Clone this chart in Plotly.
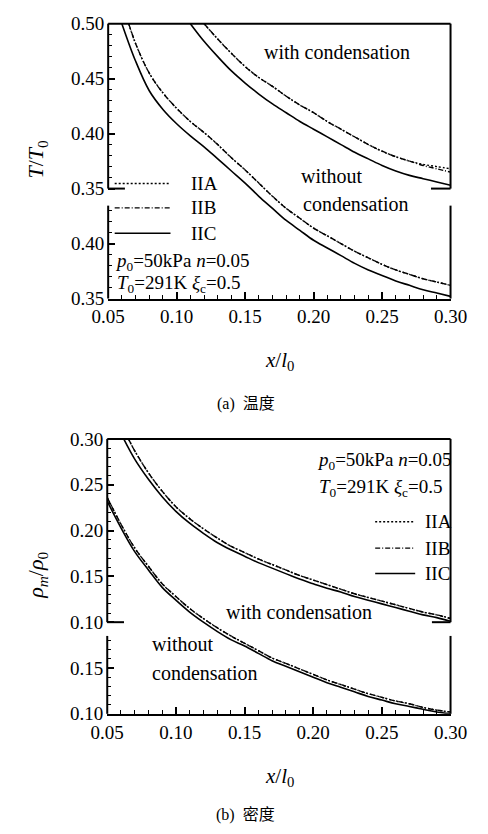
import plotly.graph_objects as go

W, H = 488, 834
FONT = "Liberation Serif"
CJK_FONT = "Liberation Serif, Noto Sans CJK SC"

# ---------------- Panel (a): temperature T/T0 ----------------
# broken axis: lower section labels are shifted by this amount on the axis
SHIFT_A = 0.10
a_ticks_upper = [0.35, 0.40, 0.45, 0.50]
a_ticks_lower = [0.35, 0.40]

# with condensation (upper section)
xa_wc_C = [0.110, 0.120, 0.130, 0.140, 0.150, 0.160, 0.170, 0.180, 0.190, 0.200,
           0.210, 0.220, 0.230, 0.240, 0.250, 0.260, 0.270, 0.280, 0.290, 0.300]
Ta_wc_C = [0.500, 0.484, 0.470, 0.457, 0.446, 0.436, 0.427, 0.419, 0.411, 0.404,
           0.397, 0.390, 0.383, 0.377, 0.371, 0.366, 0.362, 0.359, 0.356, 0.353]
xa_wc_AB = [0.120, 0.130, 0.140, 0.150, 0.160, 0.170, 0.180, 0.190, 0.200, 0.210,
            0.220, 0.230, 0.240, 0.250, 0.260, 0.270, 0.280, 0.290, 0.300]
Ta_wc_A = [0.500, 0.486, 0.473, 0.461, 0.451, 0.443, 0.434, 0.426, 0.419, 0.411,
           0.404, 0.397, 0.390, 0.384, 0.379, 0.375, 0.372, 0.370, 0.368]
Ta_wc_B = [0.500, 0.486, 0.473, 0.461, 0.451, 0.443, 0.434, 0.426, 0.419, 0.411,
           0.404, 0.397, 0.390, 0.384, 0.379, 0.375, 0.371, 0.368, 0.365]

# without condensation: upper-section part and lower-section part
xa_wo_C_up = [0.060, 0.070, 0.080, 0.090, 0.100, 0.110, 0.120, 0.130, 0.140, 0.150]
Ta_wo_C_up = [0.500, 0.466, 0.439, 0.422, 0.409, 0.398, 0.388, 0.377, 0.366, 0.355]
xa_wo_C_lo = [0.160, 0.170, 0.180, 0.190, 0.200, 0.210, 0.220, 0.230, 0.240, 0.250,
              0.260, 0.270, 0.280, 0.290, 0.300]
Ta_wo_C_lo = [0.443, 0.432, 0.421, 0.412, 0.403, 0.396, 0.389, 0.382, 0.376, 0.371,
              0.366, 0.362, 0.358, 0.355, 0.352]
xa_wo_AB_up = [0.065, 0.070, 0.080, 0.090, 0.100, 0.110, 0.120, 0.130, 0.140, 0.150, 0.160]
Ta_wo_A_up = [0.500, 0.482, 0.455, 0.437, 0.423, 0.411, 0.401, 0.390, 0.378, 0.367, 0.355]
Ta_wo_B_up = [0.500, 0.482, 0.455, 0.437, 0.423, 0.411, 0.401, 0.390, 0.378, 0.367, 0.355]
xa_wo_AB_lo = [0.170, 0.180, 0.190, 0.200, 0.210, 0.220, 0.230, 0.240, 0.250, 0.260,
               0.270, 0.280, 0.290, 0.300]
Ta_wo_A_lo = [0.443, 0.432, 0.423, 0.414, 0.407, 0.400, 0.393, 0.387, 0.381, 0.376,
              0.372, 0.368, 0.365, 0.362]
Ta_wo_B_lo = [0.443, 0.432, 0.423, 0.414, 0.407, 0.400, 0.393, 0.387, 0.381, 0.376,
              0.372, 0.368, 0.365, 0.362]

# ---------------- Panel (b): density rho_m/rho_0 ----------------
SHIFT_B = 0.10
b_ticks_upper = [0.10, 0.15, 0.20, 0.25, 0.30]
b_ticks_lower = [0.10, 0.15]

xb_wc_C = [0.062, 0.070, 0.080, 0.090, 0.100, 0.110, 0.120, 0.130, 0.140, 0.150,
           0.160, 0.170, 0.180, 0.190, 0.200, 0.210, 0.220, 0.230, 0.240, 0.250,
           0.260, 0.270, 0.280, 0.290, 0.300]
Rb_wc_C = [0.300, 0.278, 0.256, 0.237, 0.221, 0.208, 0.197, 0.187, 0.179, 0.172,
           0.165, 0.159, 0.153, 0.147, 0.142, 0.137, 0.133, 0.128, 0.124, 0.120,
           0.116, 0.112, 0.108, 0.105, 0.101]
xb_wc_AB = [0.0655, 0.070, 0.080, 0.090, 0.100, 0.110, 0.120, 0.130, 0.140, 0.150,
            0.160, 0.170, 0.180, 0.190, 0.200, 0.210, 0.220, 0.230, 0.240, 0.250,
            0.260, 0.270, 0.280, 0.290, 0.300]
Rb_wc_A = [0.300, 0.287, 0.263, 0.243, 0.226, 0.213, 0.202, 0.192, 0.183, 0.176,
           0.169, 0.163, 0.157, 0.151, 0.146, 0.141, 0.136, 0.131, 0.127, 0.123,
           0.119, 0.115, 0.111, 0.108, 0.104]
Rb_wc_B = [0.300, 0.287, 0.263, 0.243, 0.226, 0.213, 0.202, 0.192, 0.183, 0.176,
           0.169, 0.163, 0.157, 0.151, 0.146, 0.141, 0.136, 0.131, 0.127, 0.123,
           0.119, 0.115, 0.111, 0.108, 0.104]

xb_wo_up = [0.050, 0.060, 0.070, 0.080, 0.090, 0.100, 0.110, 0.120]
Rb_wo_C_up = [0.232, 0.203, 0.177, 0.157, 0.138, 0.124, 0.111, 0.100]
Rb_wo_A_up = [0.236, 0.207, 0.181, 0.161, 0.142, 0.128, 0.115, 0.104]
Rb_wo_B_up = [0.236, 0.207, 0.181, 0.161, 0.142, 0.128, 0.115, 0.104]
xb_wo_lo = [0.130, 0.140, 0.150, 0.160, 0.170, 0.180, 0.190, 0.200, 0.210, 0.220,
            0.230, 0.240, 0.250, 0.260, 0.270, 0.280, 0.290, 0.300]
Rb_wo_C_lo = [0.190, 0.181, 0.174, 0.166, 0.158, 0.152, 0.146, 0.140, 0.134, 0.129,
              0.124, 0.119, 0.115, 0.111, 0.108, 0.105, 0.102, 0.100]
Rb_wo_A_lo = [0.194, 0.185, 0.177, 0.169, 0.161, 0.155, 0.149, 0.143, 0.137, 0.132,
              0.127, 0.122, 0.118, 0.114, 0.111, 0.107, 0.104, 0.102]
Rb_wo_B_lo = [0.194, 0.185, 0.177, 0.169, 0.161, 0.155, 0.149, 0.143, 0.137, 0.132,
              0.127, 0.122, 0.118, 0.114, 0.111, 0.107, 0.104, 0.102]

x_ticks = [0.05, 0.10, 0.15, 0.20, 0.25, 0.30]
series_names = ["IIA", "IIB", "IIC"]

# ---------------- styles ----------------
STY = {
    "IIA": dict(color="black", width=1.4, dash="2px,2px"),
    "IIB": dict(color="black", width=1.4, dash="5px,2px,1px,2px"),
    "IIC": dict(color="black", width=1.6, dash="solid"),
}


def join(up_x, up_y, lo_x, lo_y, shift):
    return list(up_x) + list(lo_x), list(up_y) + [v - shift for v in lo_y]


fig = go.Figure()


def add(x, y, name, xa, ya):
    fig.add_trace(go.Scatter(x=x, y=y, mode="lines", name=name, line=STY[name],
                             line_shape="spline", xaxis=xa, yaxis=ya,
                             showlegend=False, hoverinfo="skip"))


# panel a
add(xa_wc_C, Ta_wc_C, "IIC", "x", "y")
add(*join(xa_wo_C_up, Ta_wo_C_up, xa_wo_C_lo, Ta_wo_C_lo, SHIFT_A), "IIC", "x", "y")
add(xa_wc_AB, Ta_wc_B, "IIB", "x", "y")
add(xa_wc_AB, Ta_wc_A, "IIA", "x", "y")
add(*join(xa_wo_AB_up, Ta_wo_B_up, xa_wo_AB_lo, Ta_wo_B_lo, SHIFT_A), "IIB", "x", "y")
add(*join(xa_wo_AB_up, Ta_wo_A_up, xa_wo_AB_lo, Ta_wo_A_lo, SHIFT_A), "IIA", "x", "y")

# panel b
add(xb_wc_C, Rb_wc_C, "IIC", "x2", "y2")
add(*join(xb_wo_up, Rb_wo_C_up, xb_wo_lo, Rb_wo_C_lo, SHIFT_B), "IIC", "x2", "y2")
add(xb_wc_AB, Rb_wc_B, "IIB", "x2", "y2")
add(xb_wc_AB, Rb_wc_A, "IIA", "x2", "y2")
add(*join(xb_wo_up, Rb_wo_B_up, xb_wo_lo, Rb_wo_B_lo, SHIFT_B), "IIB", "x2", "y2")
add(*join(xb_wo_up, Rb_wo_A_up, xb_wo_lo, Rb_wo_A_lo, SHIFT_B), "IIA", "x2", "y2")

# ---------------- layout geometry (pixels) ----------------
A_PX = dict(l=98, r=466, t=14, b=296)
B_PX = dict(l=97, r=466, t=440, b=722)
A_RANGE = [0.25, 0.50]
B_RANGE = [0.0, 0.30]
A_LOWER_TOP = 0.3345   # axis coord where lower section frame starts
B_LOWER_TOP = 0.085


def px(x):
    return x / W


def py(y):
    return 1 - y / H


def minor_vals(lo, hi, step, skip_lo, skip_hi, majors):
    vals = []
    n = int(round((hi - lo) / step))
    for i in range(n + 1):
        v = round(lo + i * step, 4)
        if skip_lo < v < skip_hi:
            continue
        if any(abs(v - m) < 1e-6 for m in majors):
            continue
        vals.append(v)
    return vals


a_tickvals = [v - SHIFT_A for v in a_ticks_lower] + a_ticks_upper
a_ticktext = ["%.2f" % v for v in a_ticks_lower] + ["%.2f" % v for v in a_ticks_upper]
b_tickvals = [v - SHIFT_B for v in b_ticks_lower] + b_ticks_upper
b_ticktext = ["%.2f" % v for v in b_ticks_lower] + ["%.2f" % v for v in b_ticks_upper]

tickfont = dict(family=FONT, size=19, color="black")
xminor = minor_vals(0.05, 0.30, 0.01, 9, 9, x_ticks)


def xaxis_cfg(pxd, anchor):
    return dict(domain=[px(pxd["l"]), px(pxd["r"])], range=[0.05, 0.30], anchor=anchor,
                tickmode="array", tickvals=x_ticks, ticktext=["%.2f" % v for v in x_ticks],
                ticks="inside", ticklen=7, tickwidth=1.5, tickcolor="black",
                showline=True, linewidth=2, linecolor="black", mirror=False,
                showgrid=False, zeroline=False, tickfont=tickfont, ticklabelstandoff=0,
                minor=dict(tickmode="array", tickvals=xminor, ticks="inside", ticklen=4,
                           tickwidth=1, tickcolor="black", showgrid=False))


def yaxis_cfg(pxd, anchor, rng, tv, tt, minors):
    return dict(domain=[py(pxd["b"]), py(pxd["t"])], range=rng, anchor=anchor,
                tickmode="array", tickvals=tv, ticktext=tt,
                ticks="inside", ticklen=7, tickwidth=1.5, tickcolor="black",
                showline=False, showgrid=False, zeroline=False, tickfont=tickfont,
                ticklabelstandoff=3,
                minor=dict(tickmode="array", tickvals=minors, ticks="inside", ticklen=4,
                           tickwidth=1, tickcolor="black", showgrid=False))


a_minor = minor_vals(0.25, 0.50, 0.01, A_LOWER_TOP, 0.35, a_tickvals)
b_minor = minor_vals(0.0, 0.30, 0.01, B_LOWER_TOP, 0.10, b_tickvals)

shapes = []


def seg(x0, y0, x1, y1, xr, yr, w=2):
    shapes.append(dict(type="line", x0=x0, y0=y0, x1=x1, y1=y1, xref=xr, yref=yr,
                       line=dict(color="black", width=w)))


def frame(xr, yr, rng, upper_bottom, lower_top, stub_l, stub_r):
    f = lambda v: (v - rng[0]) / (rng[1] - rng[0])
    seg(0, 1, 1, 1, xr, yr)
    seg(0, f(upper_bottom), 0, 1, xr, yr)
    seg(1, f(upper_bottom), 1, 1, xr, yr)
    seg(0, f(upper_bottom), stub_l, f(upper_bottom), xr, yr)
    seg(1 - stub_r, f(upper_bottom), 1, f(upper_bottom), xr, yr)
    seg(0, 0, 0, f(lower_top), xr, yr)
    seg(1, 0, 1, f(lower_top), xr, yr)


frame("x domain", "y domain", A_RANGE, 0.35, A_LOWER_TOP, 18 / 368, 21 / 368)
frame("x2 domain", "y2 domain", B_RANGE, 0.10, B_LOWER_TOP, 18 / 369, 20 / 369)

annotations = []


def ann(text, x, y, size=18, xanchor="left", angle=0, family=FONT):
    annotations.append(dict(text=text, x=px(x), y=py(y), xref="paper", yref="paper",
                            xanchor=xanchor, yanchor="middle", showarrow=False,
                            textangle=angle, font=dict(family=family, size=size, color="black")))


def legend_block(x0, x1, xt, ys):
    for name, yy in zip(series_names, ys):
        st = STY[name]
        shapes.append(dict(type="line", x0=px(x0), x1=px(x1), y0=py(yy), y1=py(yy),
                           xref="paper", yref="paper",
                           line=dict(color="black", width=st["width"], dash=st["dash"])))
        ann(name, xt, yy, 19)


P0_TXT = "<i>p</i><sub>0</sub>=50kPa <i>n</i>=0.05"
T0_TXT = "<i>T</i><sub>0</sub>=291K <i>ξ</i><sub>c</sub>=0.5"

# panel a texts
ann("with condensation", 263, 43, 20)
ann("without", 303, 170, 20)
ann("condensation", 305, 199, 20)
legend_block(105, 165, 185, [178, 203, 229])
ann(P0_TXT, 103, 258, 19)
ann(T0_TXT, 105, 281, 19)
ann("<i>T</i>/<i>T</i><sub>0</sub>", 22, 153, 22, "center", -90)
ann("<i>x</i>/<i>l</i><sub>0</sub>", 282, 360, 21, "center")
ann("(a)  温度", 246, 404, 16, "center", family=CJK_FONT)

# panel b texts
ann(P0_TXT, 320, 463, 19)
ann(T0_TXT, 322, 490, 19)
legend_block(385, 428, 436, [525, 552, 578])
ann("with condensation", 222, 618, 20)
ann("without", 143, 650, 20)
ann("condensation", 143, 680, 20)
ann("<i>ρ<sub>m</sub></i>/<i>ρ</i><sub>0</sub>", 22, 580, 22, "center", -90)
ann("<i>x</i>/<i>l</i><sub>0</sub>", 282, 787, 21, "center")
ann("(b)  密度", 246, 826, 16, "center", family=CJK_FONT)

fig.update_layout(
    width=W, height=H, margin=dict(l=0, r=0, t=0, b=0),
    paper_bgcolor="white", plot_bgcolor="white", showlegend=False,
    font=dict(family=FONT, color="black"),
    xaxis=xaxis_cfg(A_PX, "y"),
    yaxis=yaxis_cfg(A_PX, "x", A_RANGE, a_tickvals, a_ticktext, a_minor),
    xaxis2=xaxis_cfg(B_PX, "y2"),
    yaxis2=yaxis_cfg(B_PX, "x2", B_RANGE, b_tickvals, b_ticktext, b_minor),
    shapes=shapes, annotations=annotations,
)

fig.write_html("out.html")
